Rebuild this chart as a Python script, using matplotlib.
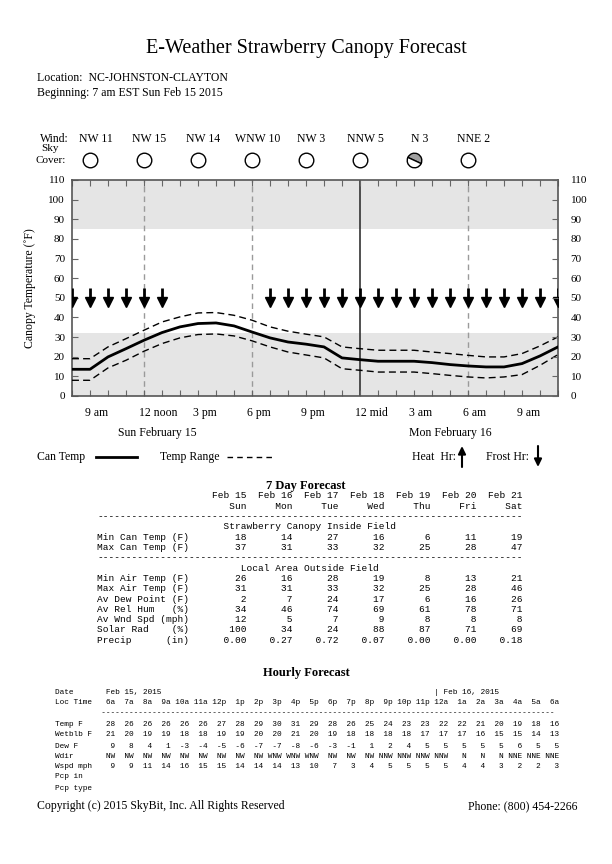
import numpy as np
import matplotlib.pyplot as plt
from matplotlib.lines import Line2D
from matplotlib.markers import MarkerStyle
from matplotlib.transforms import Affine2D, blended_transform_factory

# ---------------- data ----------------
hours = np.arange(28)  # hour 0 = 8 am Sun Feb 15
can_temp = [13.6, 13.6, 19.9, 24.1, 28.4, 32.3, 35.2, 36.9, 37.2, 35.7, 32.6, 29.6, 27.5, 26.4,
            25.0, 19.4, 18.5, 17.7, 17.7, 17.7, 17.0, 16.0, 15.3, 14.8, 14.8, 16.5, 20.4, 25.0]
range_hi = [19.0, 19.0, 25.0, 29.2, 33.5, 37.7, 40.3, 42.3, 42.5, 41.1, 38.6, 35.2, 33.0, 31.5,
            30.1, 25.0, 24.1, 23.3, 23.3, 23.3, 22.4, 21.6, 20.7, 19.9, 19.9, 21.6, 25.5, 30.1]
range_lo = [8.0, 8.0, 14.3, 18.2, 22.8, 26.7, 29.6, 31.3, 31.6, 30.6, 28.1, 25.0, 22.4, 20.9,
            19.4, 13.9, 13.1, 12.2, 12.2, 12.2, 11.4, 10.5, 9.7, 9.2, 9.7, 10.9, 15.6, 21.1]
frost = [1]*6 + [0]*5 + [1]*17

tick_hours = [1, 4, 7, 10, 13, 16, 19, 22, 25]
tick_labels = ["9 am", "12 noon", "3 pm", "6 pm", "9 pm", "12 mid", "3 am", "6 am", "9 am"]
wind_hours = [1, 4, 7, 10, 13, 16, 19, 22]
wind_labels = ["NW 11", "NW 15", "NW 14", "WNW 10", "NW 3", "NNW 5", "N 3", "NNE 2"]
sky_partial = [0, 0, 0, 0, 0, 0, 1, 0]

dates = ["Feb 15", "Feb 16", "Feb 17", "Feb 18", "Feb 19", "Feb 20", "Feb 21"]
days = ["Sun", "Mon", "Tue", "Wed", "Thu", "Fri", "Sat"]
canopy_rows = [("Min Can Temp (F)", [18, 14, 27, 16, 6, 11, 19]),
               ("Max Can Temp (F)", [37, 31, 33, 32, 25, 28, 47])]
area_rows = [("Min Air Temp (F)", [26, 16, 28, 19, 8, 13, 21]),
             ("Max Air Temp (F)", [31, 31, 33, 32, 25, 28, 46]),
             ("Av Dew Point (F)", [2, 7, 24, 17, 6, 16, 26]),
             ("Av Rel Hum   (%)", [34, 46, 74, 69, 61, 78, 71]),
             ("Av Wnd Spd (mph)", [12, 5, 7, 9, 8, 8, 8]),
             ("Solar Rad    (%)", [100, 34, 24, 88, 87, 71, 69]),
             ("Precip      (in)", ["0.00", "0.27", "0.72", "0.07", "0.00", "0.00", "0.18"])]

loc_time = ["6a", "7a", "8a", "9a", "10a", "11a", "12p", "1p", "2p", "3p", "4p", "5p", "6p",
            "7p", "8p", "9p", "10p", "11p", "12a", "1a", "2a", "3a", "4a", "5a", "6a"]
hr_temp = [28, 26, 26, 26, 26, 26, 27, 28, 29, 30, 31, 29, 28, 26, 25, 24, 23, 23, 22, 22, 21, 20, 19, 18, 16]
hr_wetblb = [21, 20, 19, 19, 18, 18, 19, 19, 20, 20, 21, 20, 19, 18, 18, 18, 18, 17, 17, 17, 16, 15, 15, 14, 13]
hr_dew = [9, 8, 4, 1, -3, -4, -5, -6, -7, -7, -8, -6, -3, -1, 1, 2, 4, 5, 5, 5, 5, 5, 6, 5, 5]
hr_wdir = ["NW"]*9 + ["WNW"]*3 + ["NW"]*3 + ["NNW"]*4 + ["N"]*3 + ["NNE"]*3
hr_wspd = [9, 9, 11, 14, 16, 15, 15, 14, 14, 14, 13, 10, 7, 3, 4, 5, 5, 5, 5, 4, 4, 3, 2, 2, 3]

# ---------------- figure ----------------
plt.rcParams['font.family'] = ['Liberation Serif', 'DejaVu Serif']
W, H = 612, 864
fig = plt.figure(figsize=(W/100, H/100), dpi=100)

def fx(x): return x / W
def fy(y): return 1 - y / H

fig.text(fx(306), fy(48), "E-Weather Strawberry Canopy Forecast", ha='center', va='center', fontsize=14.5)
fig.text(fx(37), fy(78), "Location:  NC-JOHNSTON-CLAYTON", ha='left', va='center', fontsize=8.5)
fig.text(fx(37), fy(93), "Beginning: 7 am EST Sun Feb 15 2015", ha='left', va='center', fontsize=8.5)

ax = fig.add_axes([fx(72), fy(396), 486/W, 216/H])
ax.set_xlim(0, 27)
ax.set_ylim(0, 110)
ax.axhspan(0, 32, color='#e5e5e5', lw=0, zorder=0)
ax.axhspan(85, 110, color='#e5e5e5', lw=0, zorder=0)
for h in [4, 10, 22]:
    ax.axvline(h, color='#9a9a9a', lw=1, ls=(0, (4, 3)), zorder=1)
ax.axvline(16, color='#333333', lw=1.2, zorder=1)

ax.plot(hours, range_hi, color='k', lw=1, ls=(0, (5, 3)), zorder=3)
ax.plot(hours, range_lo, color='k', lw=1, ls=(0, (5, 3)), zorder=3)
ax.plot(hours, can_temp, color='k', lw=2, zorder=4)

fh = hours[np.array(frost) == 1]
ax.vlines(fh, 50, 55, color='k', lw=2, zorder=5)
ax.plot(fh, [48]*len(fh), 'v', color='k', ms=7, zorder=5)

ax.set_xticks(hours)
ax.set_xticklabels([])
ax.tick_params(axis='x', direction='in', top=True, length=4, color='#666666')
ax.set_yticks(range(0, 111, 10))
ax.tick_params(axis='y', direction='in', length=4, color='#666666', labelsize=8, pad=5)
for s in ax.spines.values():
    s.set_color('#555555')
    s.set_linewidth(1.2)

ax2 = ax.twinx()
ax2.set_ylim(0, 110)
ax2.set_yticks(range(0, 111, 10))
ax2.tick_params(axis='y', direction='in', length=4, color='#666666', labelsize=8, pad=9)
for s in ax2.spines.values():
    s.set_visible(False)

fig.text(fx(30), fy(288), "Canopy Temperature (˚F)", rotation=90, ha='center', va='center', fontsize=8.5)

blend = blended_transform_factory(ax.transData, fig.transFigure)
for h, lab in zip(tick_hours, tick_labels):
    ax.text(h - 0.27, fy(413), lab, transform=blend, ha='left', va='center', fontsize=8.5)
fig.text(fx(157), fy(433), "Sun February 15", ha='center', va='center', fontsize=8.5)
fig.text(fx(450), fy(433), "Mon February 16", ha='center', va='center', fontsize=8.5)

# wind and sky cover row
fig.text(fx(40), fy(139), "Wind:", ha='left', va='center', fontsize=8.5)
fig.text(fx(50), fy(148.5), "Sky", ha='center', va='center', fontsize=8)
fig.text(fx(51), fy(160.5), "Cover:", ha='center', va='center', fontsize=8)
for h, lab, p in zip(wind_hours, wind_labels, sky_partial):
    ax.text(h + 0.3, fy(139), lab, transform=blend, ha='center', va='center', fontsize=8.5)
    if p:
        ms = MarkerStyle('o', fillstyle='top', transform=Affine2D().rotate_deg(-25))
        ax.plot([h], [fy(160)], marker=ms, ms=10.5, mfc='#a0a0a0', mfcalt='white',
                mec='k', mew=1, transform=blend, clip_on=False, ls='none')
    else:
        ax.plot([h], [fy(160)], 'o', ms=10.5, mfc='white', mec='k', mew=1,
                transform=blend, clip_on=False)

# legend row
fig.text(fx(37), fy(457), "Can Temp", ha='left', va='center', fontsize=8.5)
fig.add_artist(Line2D([fx(96), fx(137)], [fy(457)]*2, color='k', lw=2, transform=fig.transFigure))
fig.text(fx(160), fy(457), "Temp Range", ha='left', va='center', fontsize=8.5)
fig.add_artist(Line2D([fx(227), fx(272)], [fy(457)]*2, color='k', lw=1, ls=(0, (4, 3)),
                      transform=fig.transFigure))
fig.text(fx(412), fy(457), "Heat  Hr:", ha='left', va='center', fontsize=8.5)
fig.text(fx(486), fy(457), "Frost Hr:", ha='left', va='center', fontsize=8.5)
arr = dict(arrowstyle='-|>,head_width=0.22,head_length=0.45', color='k', lw=1.5, shrinkA=0, shrinkB=0)
ax.annotate('', xy=(462, H-446), xytext=(462, H-467), xycoords='figure pixels',
            textcoords='figure pixels', arrowprops=arr, annotation_clip=False)
ax.annotate('', xy=(538, H-467), xytext=(538, H-446), xycoords='figure pixels',
            textcoords='figure pixels', arrowprops=arr, annotation_clip=False)

# 7 day table
fig.text(fx(306), fy(486), "7 Day Forecast", ha='center', va='center', fontsize=9, fontweight='bold')
lines = [" "*18 + "".join(f"{d:>8}" for d in dates),
         " "*18 + "".join(f"{d:>8}" for d in days),
         "-"*74,
         "Strawberry Canopy Inside Field".center(74)]
lines += [f"{lab:<18}" + "".join(f"{v:>8}" for v in vals) for lab, vals in canopy_rows]
lines += ["-"*74, "Local Area Outside Field".center(74)]
lines += [f"{lab:<18}" + "".join(f"{v:>8}" for v in vals) for lab, vals in area_rows]
for i, ln in enumerate(lines):
    fig.text(fx(97), fy(496 + i*10.3), ln, ha='left', va='center', family='Liberation Mono', fontsize=6.8)

# hourly table
fig.text(fx(306), fy(673), "Hourly Forecast", ha='center', va='center', fontsize=9, fontweight='bold')
hlines = ["Date".ljust(11) + "Feb 15, 2015",
          "Loc Time " + "".join(f"{t:>4}" for t in loc_time),
          " "*10 + "-"*98,
          "Temp F   " + "".join(f"{v:>4}" for v in hr_temp),
          "Wetblb F " + "".join(f"{v:>4}" for v in hr_wetblb),
          "Dew F    " + "".join(f"{v:>4}" for v in hr_dew),
          "Wdir     " + "".join(f"{v:>4}" for v in hr_wdir),
          "Wspd mph " + "".join(f"{v:>4}" for v in hr_wspd),
          "Pcp in",
          "Pcp type"]
hlines[0] = hlines[0].ljust(82) + "| Feb 16, 2015"
hy = [692, 703, 713, 725, 735, 746, 756, 767, 777, 788]
for y, ln in zip(hy, hlines):
    fig.text(fx(55), fy(y), ln, ha='left', va='center', family='Liberation Mono', fontsize=5.6)

fig.text(fx(37), fy(806), "Copyright (c) 2015 SkyBit, Inc. All Rights Reserved", ha='left', va='center', fontsize=8.5)
fig.text(fx(577), fy(806), "Phone: (800) 454-2266", ha='right', va='center', fontsize=8.5)

fig.savefig("out.png", dpi=100)
